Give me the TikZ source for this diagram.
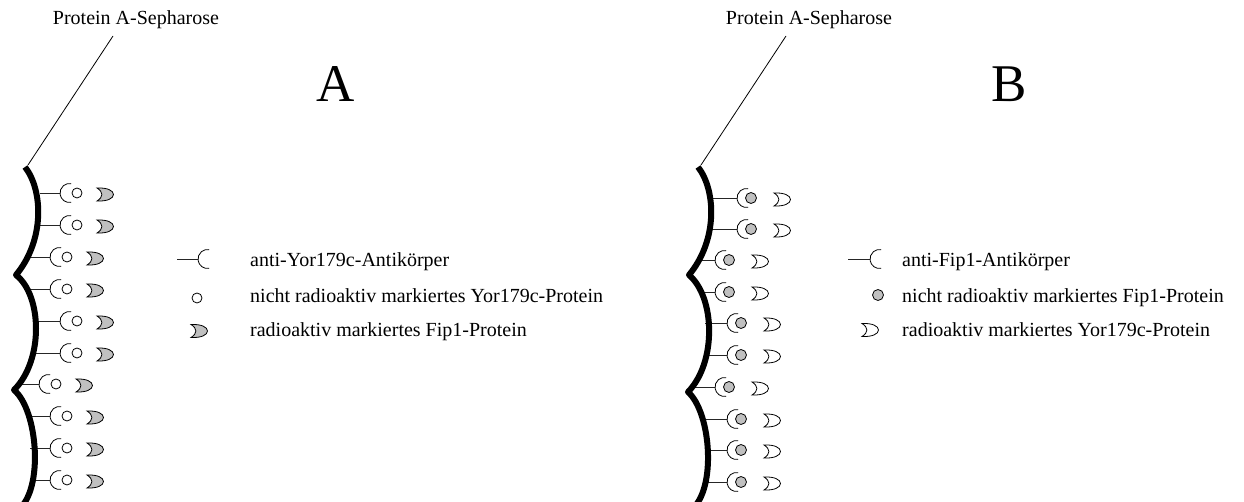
\documentclass[tikz,border=0pt]{standalone}
\usepackage{fontspec}
\setmainfont{Liberation Serif}
\definecolor{protgray}{RGB}{192,192,192}
\begin{document}
\begin{tikzpicture}[x=1pt,y=-1pt,
  txt/.style={font=\fontsize{20}{24}\selectfont, inner sep=0pt},
  bigtxt/.style={font=\fontsize{53}{60}\selectfont, inner sep=0pt},
  membrane/.style={line width=6pt, line join=round},
  pointer/.style={line width=0.8pt},
  stem/.style={line width=0.9pt, black!85},
  outline/.style={line width=0.8pt},
  antibody/.pic={\draw[outline] (9.5,0) ++(80:9.5) arc[start angle=80, end angle=280, radius=9.5];},
  protein/.pic={\draw[outline, fill=#1] (-8,-6.5) .. controls (-1.5,-2.5) and (-1.5,2.5) .. (-8,6.5)
      .. controls (2,7) and (8.5,4) .. (8.5,0) .. controls (8.5,-4) and (2,-7) .. cycle;}
]
\useasboundingbox (0,0) rectangle (1244,502);
\clip (0,0) rectangle (1244,502);

% ---------- panel A ----------
\node[txt, anchor=base] (lblA) at (136,25) {Protein A-Sepharose};
\node[bigtxt, anchor=base] (capA) at (336,102) {A};
\coordinate (pA) at (113,36);
\coordinate (mA) at (28,165);
\draw[pointer] (pA) -- (mA);

% stems first, so that the membrane covers their roots
\foreach \y/\s/\X in {193/40/60, 225/40/60, 257/28/50, 289/24/50, 321/33/60,
                      353/36/60, 384/16/39, 416/26/50, 448/30/50, 480/32/50} {
  \draw[stem] (\s,\y) -- (\X,\y);
}
\draw[membrane] (25,167) .. controls (43,190) and (45,240) .. (16,275)
  .. controls (42,295) and (44,360) .. (14,390)
  .. controls (38,410) and (44,490) .. (18,510);
\foreach \y/\X in {193/60, 225/60, 257/50, 289/50, 321/60,
                   353/60, 384/39, 416/50, 448/50, 480/50} {
  \pic at (\X,\y) {antibody};
  \draw[outline, fill=white] (\X+17,\y) circle[radius=5];
  \pic at (\X+45,\y+1.5) {protein=protgray};
}

% legend A
\coordinate (lgA0) at (177,259);
\coordinate (lgA1) at (198,259);
\draw[stem] (lgA0) -- (lgA1);
\pic at (lgA1) {antibody};
\draw[outline, fill=white] (197,298) circle[radius=5];
\pic at (199,331) {protein=protgray};
\node[txt, anchor=base west] (tA1) at (250,267) {anti-Yor179c-Antikörper};
\node[txt, anchor=base west] (tA2) at (250,303) {nicht radioaktiv markiertes Yor179c-Protein};
\node[txt, anchor=base west] (tA3) at (250,337) {radioaktiv markiertes Fip1-Protein};

% ---------- panel B ----------
\node[txt, anchor=base] (lblB) at (809,25) {Protein A-Sepharose};
\node[bigtxt, anchor=base] (capB) at (1009,102) {B};
\coordinate (pB) at (786,36);
\coordinate (mB) at (701,165);
\draw[pointer] (pB) -- (mB);

\foreach \y/\s/\X in {198/712/737, 229/712/737, 260/698/715, 292/700/715, 323/705/727,
                      355/708/727, 387/691/715, 419/703/727, 450/708/727, 482/705/727} {
  \draw[stem] (\s,\y) -- (\X,\y);
}
\draw[membrane] (698,167) .. controls (716,190) and (718,240) .. (689,275)
  .. controls (715,297) and (717,362) .. (688,392)
  .. controls (711,412) and (717,490) .. (691,510);
\foreach \y/\X in {198/737, 229/737, 260/715, 292/715, 323/727,
                   355/727, 387/715, 419/727, 450/727, 482/727} {
  \pic at (\X,\y) {antibody};
  \draw[outline, fill=protgray] (\X+14,\y) circle[radius=5.5];
  \pic at (\X+45,\y+1.5) {protein=white};
}

% legend B
\coordinate (lgB0) at (848,259);
\coordinate (lgB1) at (870,259);
\draw[stem] (lgB0) -- (lgB1);
\pic at (lgB1) {antibody};
\draw[outline, fill=protgray] (878,295) circle[radius=5.5];
\pic at (870,330) {protein=white};
\node[txt, anchor=base west] (tB1) at (902,267) {anti-Fip1-Antikörper};
\node[txt, anchor=base west] (tB2) at (902,303) {nicht radioaktiv markiertes Fip1-Protein};
\node[txt, anchor=base west] (tB3) at (902,337) {radioaktiv markiertes Yor179c-Protein};
\end{tikzpicture}
\end{document}
